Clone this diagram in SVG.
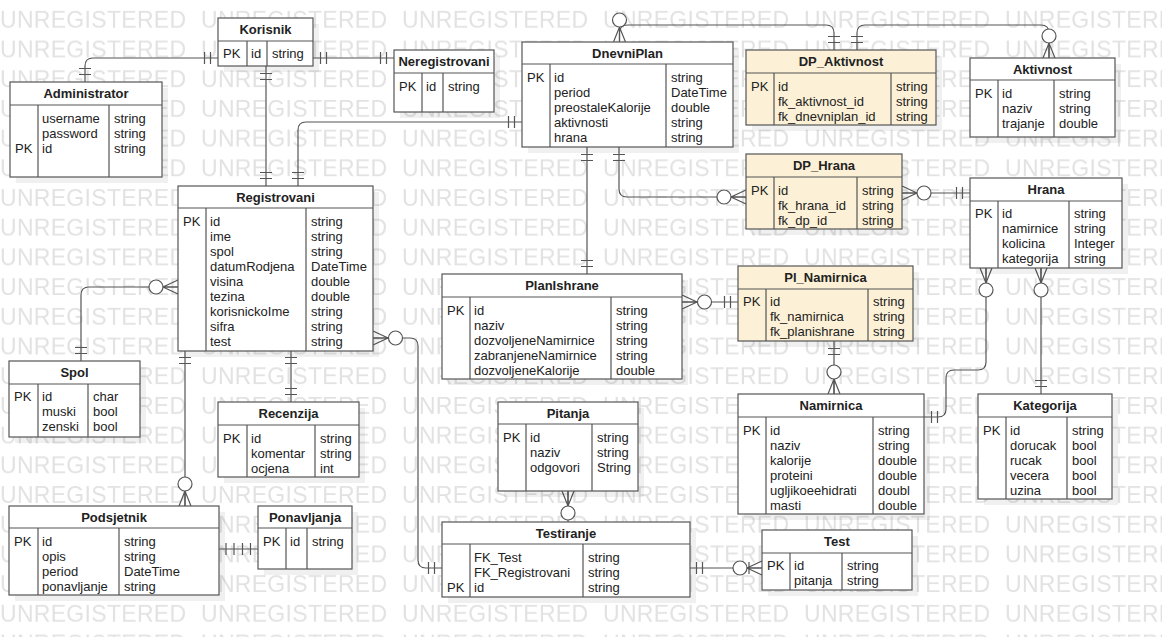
<svg xmlns="http://www.w3.org/2000/svg" width="1162" height="637" viewBox="0 0 1162 637">
<style>
.wm{font-family:"Liberation Sans",Arial,sans-serif;font-size:23px;fill:#e2e2e2;letter-spacing:0.3px}
.sh{fill:#000;opacity:0.06}
.box{fill:#fff;stroke:#555;stroke-width:1.2}
.ent{fill:#fcf1d6;stroke:#555;stroke-width:1.2}
.ln{fill:none;stroke:#555;stroke-width:1.2}
.t{font-family:"Liberation Sans",Arial,sans-serif;font-size:13px;fill:#222}
.h{font-family:"Liberation Sans",Arial,sans-serif;font-size:13px;font-weight:bold;fill:#222;text-anchor:middle}
.c{fill:none;stroke:#555;stroke-width:1.2}
.o{fill:#fff;stroke:#555;stroke-width:1.2}
</style>
<defs>
<pattern id="wmp" patternUnits="userSpaceOnUse" x="0" y="0" width="201" height="29.7">
<text class="wm" x="0" y="28.2">UNREGISTERED</text>
</pattern>
</defs>
<rect width="1162" height="637" fill="#fff"/>
<rect id="watermark" width="1162" height="637" fill="url(#wmp)"/>

<g id="connectors">
<g class="c">
<path d="M218,58H93Q85,58 85,66V82"/>
<path d="M313,58H394"/>
<path d="M266,66V186"/>
<path d="M298,186V130Q298,122 306,122H522"/>
<path d="M619.5,42V33Q619.5,25 627.5,25H826Q834,25 834,33V50"/>
<path d="M857,50V33Q857,25 865,25H1041Q1049,25 1049,33V58"/>
<path d="M587,147V274"/>
<path d="M619,147V189Q619,197 627,197H746"/>
<path d="M902,193H970"/>
<path d="M682,302H738"/>
<path d="M834,341V394"/>
<path d="M986,268V362Q986,370 978,370H954Q946,370 946,378V409Q946,417 938,417H924"/>
<path d="M1041,268V394"/>
<path d="M178,287H89Q81,287 81,295V361"/>
<path d="M185,351V506"/>
<path d="M291,351V402"/>
<path d="M373,338H410Q418,338 418,346V560Q418,568 426,568H442"/>
<path d="M568,491V522"/>
<path d="M690,568H762"/>
<path d="M219,549H258"/>
<path d="M210.5,52V64M204.5,52V64M79,74.5H91M79,68.5H91"/>
<path d="M320.5,52V64M326.5,52V64M386.5,52V64M380.5,52V64"/>
<path d="M260,73.5H272M260,79.5H272M260,178.5H272M260,172.5H272"/>
<path d="M292,178.5H304M292,172.5H304M514.5,116V128M508.5,116V128"/>
<path d="M828,42.5H840M828,36.5H840M851,42.5H863M851,36.5H863"/>
<path d="M581,154.5H593M581,160.5H593M581,266.5H593M581,260.5H593"/>
<path d="M613,154.5H625M613,160.5H625"/>
<path d="M962.5,187V199M956.5,187V199M730.5,296V308M724.5,296V308"/>
<path d="M828,348.5H840M828,354.5H840M931.5,411V423M937.5,411V423"/>
<path d="M1035,386.5H1047M1035,380.5H1047M75,353.5H87M75,347.5H87"/>
<path d="M179,357.5H191M179,363.5H191M285,357.5H297M285,363.5H297M285,394.5H297M285,388.5H297"/>
<path d="M434.5,562V574M428.5,562V574M696.5,562V574M702.5,562V574M749,562V574"/>
<path d="M226,543V555M234,543V555M242.5,543V555M250.5,543V555"/>
<path d="M613.5,42L619.5,27L625.5,42M619.5,27V42"/>
<path d="M1043,58L1049,43L1055,58M1049,43V58"/>
<path d="M746,190L731,197L746,204M731,197H746"/>
<path d="M902,186L917,193L902,200M902,193H917"/>
<path d="M682,295L697,302L682,309M682,302H697"/>
<path d="M828,394L834,379L840,394M834,379V394"/>
<path d="M980,268L986,283L992,268M986,268V283"/>
<path d="M1035,268L1041,283L1047,268M1041,268V283"/>
<path d="M178,280L163,287L178,294M163,287H178"/>
<path d="M179,506L185,491L191,506M185,491V506"/>
<path d="M373,331L388,338L373,345M373,338H388"/>
<path d="M562,491L568,506L574,491M568,491V506"/>
<path d="M762,561L747,568L762,575M747,568H762"/>
</g>
<g class="o">
<circle cx="619.5" cy="20" r="7"/>
<circle cx="1049" cy="36" r="7"/>
<circle cx="724" cy="197" r="7"/>
<circle cx="924" cy="193" r="7"/>
<circle cx="704.5" cy="302" r="7"/>
<circle cx="834" cy="372" r="7"/>
<circle cx="986" cy="290" r="7"/>
<circle cx="1041" cy="290" r="7"/>
<circle cx="156" cy="287" r="7"/>
<circle cx="185" cy="484" r="7"/>
<circle cx="395.5" cy="338" r="7"/>
<circle cx="568" cy="513" r="7"/>
<circle cx="740" cy="568" r="7"/>
</g>
</g>

<g id="Korisnik">
<rect class="sh" x="224" y="24" width="95" height="48"/>
<rect class="box" x="218" y="18" width="95" height="48"/>
<path class="ln" d="M218,41H313M247,41V66M267,41V66"/>
<text class="h" x="265.5" y="33.5">Korisnik</text>
<text class="t" x="223" y="58">PK</text><text class="t" x="251" y="58">id</text><text class="t" x="272" y="58">string</text>
</g>

<g id="Administrator">
<rect class="sh" x="16" y="88" width="152" height="95"/>
<rect class="box" x="10" y="82" width="152" height="95"/>
<path class="ln" d="M10,105H162M38,105V177M109,105V177"/>
<text class="h" x="86" y="97.5">Administrator</text>
<text class="t" x="15" y="152.5">PK</text>
<text class="t"><tspan x="42" y="122.5">username</tspan><tspan x="42" y="137.5">password</tspan><tspan x="42" y="152.5">id</tspan></text>
<text class="t"><tspan x="114" y="122.5">string</tspan><tspan x="114" y="137.5">string</tspan><tspan x="114" y="152.5">string</tspan></text>
</g>

<g id="Neregistrovani">
<rect class="sh" x="400" y="56" width="100" height="62"/>
<rect class="box" x="394" y="50" width="100" height="62"/>
<path class="ln" d="M394,73H494M422,73V112M443,73V112"/>
<text class="h" x="444" y="65.5">Neregistrovani</text>
<text class="t" x="399" y="91">PK</text><text class="t" x="426" y="91">id</text><text class="t" x="448" y="91">string</text>
</g>

<g id="DnevniPlan">
<rect class="sh" x="528" y="48" width="211" height="105"/>
<rect class="box" x="522" y="42" width="211" height="105"/>
<path class="ln" d="M522,64H733M550,64V147M666,64V147"/>
<text class="h" x="627.5" y="57.5">DnevniPlan</text>
<text class="t" x="527" y="82">PK</text>
<text class="t"><tspan x="554" y="82">id</tspan><tspan x="554" y="97">period</tspan><tspan x="554" y="112">preostaleKalorije</tspan><tspan x="554" y="127">aktivnosti</tspan><tspan x="554" y="142">hrana</tspan></text>
<text class="t"><tspan x="671" y="82">string</tspan><tspan x="671" y="97">DateTime</tspan><tspan x="671" y="112">double</tspan><tspan x="671" y="127">string</tspan><tspan x="671" y="142">string</tspan></text>
</g>

<g id="DP_Aktivnost">
<rect class="sh" x="752" y="56" width="190" height="75"/>
<rect class="ent" x="746" y="50" width="190" height="75"/>
<path class="ln" d="M746,73H936M774,73V125M891,73V125"/>
<text class="h" x="841" y="65.5">DP_Aktivnost</text>
<text class="t" x="751" y="90.5">PK</text>
<text class="t"><tspan x="778" y="90.5">id</tspan><tspan x="778" y="105.5">fk_aktivnost_id</tspan><tspan x="778" y="120.5">fk_dnevniplan_id</tspan></text>
<text class="t"><tspan x="896" y="90.5">string</tspan><tspan x="896" y="105.5">string</tspan><tspan x="896" y="120.5">string</tspan></text>
</g>

<g id="Aktivnost">
<rect class="sh" x="976" y="64" width="145" height="79"/>
<rect class="box" x="970" y="58" width="145" height="79"/>
<path class="ln" d="M970,80H1115M998,80V137M1054,80V137"/>
<text class="h" x="1042.5" y="73.5">Aktivnost</text>
<text class="t" x="975" y="98">PK</text>
<text class="t"><tspan x="1002" y="98">id</tspan><tspan x="1002" y="113">naziv</tspan><tspan x="1002" y="128">trajanje</tspan></text>
<text class="t"><tspan x="1059" y="98">string</tspan><tspan x="1059" y="113">string</tspan><tspan x="1059" y="128">double</tspan></text>
</g>

<g id="DP_Hrana">
<rect class="sh" x="752" y="160" width="156" height="75"/>
<rect class="ent" x="746" y="154" width="156" height="75"/>
<path class="ln" d="M746,177H902M774,177V229M857,177V229"/>
<text class="h" x="824" y="169.5">DP_Hrana</text>
<text class="t" x="751" y="194.5">PK</text>
<text class="t"><tspan x="778" y="194.5">id</tspan><tspan x="778" y="209.5">fk_hrana_id</tspan><tspan x="778" y="224.5">fk_dp_id</tspan></text>
<text class="t"><tspan x="862" y="194.5">string</tspan><tspan x="862" y="209.5">string</tspan><tspan x="862" y="224.5">string</tspan></text>
</g>

<g id="Hrana">
<rect class="sh" x="976" y="184" width="152" height="90"/>
<rect class="box" x="970" y="178" width="152" height="90"/>
<path class="ln" d="M970,201H1122M998,201V268M1069,201V268"/>
<text class="h" x="1046" y="193.5">Hrana</text>
<text class="t" x="975" y="218">PK</text>
<text class="t"><tspan x="1002" y="218">id</tspan><tspan x="1002" y="233">namirnice</tspan><tspan x="1002" y="248">kolicina</tspan><tspan x="1002" y="263">kategorija</tspan></text>
<text class="t"><tspan x="1074" y="218">string</tspan><tspan x="1074" y="233">string</tspan><tspan x="1074" y="248">Integer</tspan><tspan x="1074" y="263">string</tspan></text>
</g>

<g id="Registrovani">
<rect class="sh" x="184" y="192" width="195" height="165"/>
<rect class="box" x="178" y="186" width="195" height="165"/>
<path class="ln" d="M178,208H373M206,208V351M306,208V351"/>
<text class="h" x="275.5" y="201.5">Registrovani</text>
<text class="t" x="183" y="226">PK</text>
<text class="t"><tspan x="210" y="226">id</tspan><tspan x="210" y="241">ime</tspan><tspan x="210" y="256">spol</tspan><tspan x="210" y="271">datumRodjena</tspan><tspan x="210" y="286">visina</tspan><tspan x="210" y="301">tezina</tspan><tspan x="210" y="316">korisnickoIme</tspan><tspan x="210" y="331">sifra</tspan><tspan x="210" y="346">test</tspan></text>
<text class="t"><tspan x="311" y="226">string</tspan><tspan x="311" y="241">string</tspan><tspan x="311" y="256">string</tspan><tspan x="311" y="271">DateTime</tspan><tspan x="311" y="286">double</tspan><tspan x="311" y="301">double</tspan><tspan x="311" y="316">string</tspan><tspan x="311" y="331">string</tspan><tspan x="311" y="346">string</tspan></text>
</g>

<g id="PlanIshrane">
<rect class="sh" x="448" y="280" width="240" height="105"/>
<rect class="box" x="442" y="274" width="240" height="105"/>
<path class="ln" d="M442,297H682M470,297V379M611,297V379"/>
<text class="h" x="562" y="289.5">PlanIshrane</text>
<text class="t" x="447" y="314.5">PK</text>
<text class="t"><tspan x="474" y="314.5">id</tspan><tspan x="474" y="329.5">naziv</tspan><tspan x="474" y="344.5">dozvoljeneNamirnice</tspan><tspan x="474" y="359.5">zabranjeneNamirnice</tspan><tspan x="474" y="374.5">dozvoljeneKalorije</tspan></text>
<text class="t"><tspan x="616" y="314.5">string</tspan><tspan x="616" y="329.5">string</tspan><tspan x="616" y="344.5">string</tspan><tspan x="616" y="359.5">string</tspan><tspan x="616" y="374.5">double</tspan></text>
</g>

<g id="Pl_Namirnica">
<rect class="sh" x="744" y="272" width="175" height="75"/>
<rect class="ent" x="738" y="266" width="175" height="75"/>
<path class="ln" d="M738,289H913M766,289V341M868,289V341"/>
<text class="h" x="825.5" y="281.5">Pl_Namirnica</text>
<text class="t" x="743" y="306">PK</text>
<text class="t"><tspan x="770" y="306">id</tspan><tspan x="770" y="321">fk_namirnica</tspan><tspan x="770" y="336">fk_planishrane</tspan></text>
<text class="t"><tspan x="873" y="306">string</tspan><tspan x="873" y="321">string</tspan><tspan x="873" y="336">string</tspan></text>
</g>

<g id="Namirnica">
<rect class="sh" x="744" y="400" width="186" height="120"/>
<rect class="box" x="738" y="394" width="186" height="120"/>
<path class="ln" d="M738,417H924M766,417V514M873,417V514"/>
<text class="h" x="831" y="409.5">Namirnica</text>
<text class="t" x="743" y="434.5">PK</text>
<text class="t"><tspan x="770" y="434.5">id</tspan><tspan x="770" y="449.5">naziv</tspan><tspan x="770" y="464.5">kalorije</tspan><tspan x="770" y="479.5">proteini</tspan><tspan x="770" y="494.5">ugljikoeehidrati</tspan><tspan x="770" y="509.5">masti</tspan></text>
<text class="t"><tspan x="878" y="434.5">string</tspan><tspan x="878" y="449.5">string</tspan><tspan x="878" y="464.5">double</tspan><tspan x="878" y="479.5">double</tspan><tspan x="878" y="494.5">doubl</tspan><tspan x="878" y="509.5">double</tspan></text>
</g>

<g id="Kategorija">
<rect class="sh" x="984" y="400" width="134" height="105"/>
<rect class="box" x="978" y="394" width="134" height="105"/>
<path class="ln" d="M978,417H1112M1006,417V499M1067,417V499"/>
<text class="h" x="1045" y="409.5">Kategorija</text>
<text class="t" x="983" y="434.5">PK</text>
<text class="t"><tspan x="1010" y="434.5">id</tspan><tspan x="1010" y="449.5">dorucak</tspan><tspan x="1010" y="464.5">rucak</tspan><tspan x="1010" y="479.5">vecera</tspan><tspan x="1010" y="494.5">uzina</tspan></text>
<text class="t"><tspan x="1072" y="434.5">string</tspan><tspan x="1072" y="449.5">bool</tspan><tspan x="1072" y="464.5">bool</tspan><tspan x="1072" y="479.5">bool</tspan><tspan x="1072" y="494.5">bool</tspan></text>
</g>

<g id="Spol">
<rect class="sh" x="15" y="367" width="131" height="76"/>
<rect class="box" x="9" y="361" width="131" height="76"/>
<path class="ln" d="M9,384H140M38,384V437M88,384V437"/>
<text class="h" x="74.5" y="376.5">Spol</text>
<text class="t" x="14" y="401">PK</text>
<text class="t"><tspan x="42" y="401">id</tspan><tspan x="42" y="416">muski</tspan><tspan x="42" y="431">zenski</tspan></text>
<text class="t"><tspan x="93" y="401">char</tspan><tspan x="93" y="416">bool</tspan><tspan x="93" y="431">bool</tspan></text>
</g>

<g id="Recenzija">
<rect class="sh" x="224" y="408" width="141" height="75"/>
<rect class="box" x="218" y="402" width="141" height="75"/>
<path class="ln" d="M218,425H359M247,425V477M315,425V477"/>
<text class="h" x="288.5" y="417.5">Recenzija</text>
<text class="t" x="223" y="443">PK</text>
<text class="t"><tspan x="251" y="443">id</tspan><tspan x="251" y="458">komentar</tspan><tspan x="251" y="473">ocjena</tspan></text>
<text class="t"><tspan x="320" y="443">string</tspan><tspan x="320" y="458">string</tspan><tspan x="320" y="473">int</tspan></text>
</g>

<g id="Podsjetnik">
<rect class="sh" x="15" y="512" width="210" height="89"/>
<rect class="box" x="9" y="506" width="210" height="89"/>
<path class="ln" d="M9,528H219M38,528V595M119,528V595"/>
<text class="h" x="114" y="521.5">Podsjetnik</text>
<text class="t" x="14" y="546">PK</text>
<text class="t"><tspan x="42" y="546">id</tspan><tspan x="42" y="561">opis</tspan><tspan x="42" y="576">period</tspan><tspan x="42" y="591">ponavljanje</tspan></text>
<text class="t"><tspan x="124" y="546">string</tspan><tspan x="124" y="561">string</tspan><tspan x="124" y="576">DateTime</tspan><tspan x="124" y="591">string</tspan></text>
</g>

<g id="Ponavljanja">
<rect class="sh" x="264" y="512" width="94" height="63"/>
<rect class="box" x="258" y="506" width="94" height="63"/>
<path class="ln" d="M258,528H352M286,528V569M307,528V569"/>
<text class="h" x="305" y="521.5">Ponavljanja</text>
<text class="t" x="263" y="546">PK</text><text class="t" x="290" y="546">id</text><text class="t" x="312" y="546">string</text>
</g>

<g id="Pitanja">
<rect class="sh" x="504" y="408" width="140" height="89"/>
<rect class="box" x="498" y="402" width="140" height="89"/>
<path class="ln" d="M498,424H638M526,424V491M592,424V491"/>
<text class="h" x="568" y="417.5">Pitanja</text>
<text class="t" x="503" y="442">PK</text>
<text class="t"><tspan x="530" y="442">id</tspan><tspan x="530" y="457">naziv</tspan><tspan x="530" y="472">odgovori</tspan></text>
<text class="t"><tspan x="597" y="442">string</tspan><tspan x="597" y="457">string</tspan><tspan x="597" y="472">String</tspan></text>
</g>

<g id="Testiranje">
<rect class="sh" x="448" y="528" width="248" height="75"/>
<rect class="box" x="442" y="522" width="248" height="75"/>
<path class="ln" d="M442,544H690M470,544V597M583,544V597"/>
<text class="h" x="566" y="537.5">Testiranje</text>
<text class="t" x="447" y="592">PK</text>
<text class="t"><tspan x="474" y="562">FK_Test</tspan><tspan x="474" y="577">FK_Registrovani</tspan><tspan x="474" y="592">id</tspan></text>
<text class="t"><tspan x="588" y="562">string</tspan><tspan x="588" y="577">string</tspan><tspan x="588" y="592">string</tspan></text>
</g>

<g id="Test">
<rect class="sh" x="768" y="536" width="150" height="60"/>
<rect class="box" x="762" y="530" width="150" height="60"/>
<path class="ln" d="M762,553H912M790,553V590M842,553V590"/>
<text class="h" x="837" y="545.5">Test</text>
<text class="t" x="767" y="569.5">PK</text>
<text class="t"><tspan x="794" y="569.5">id</tspan><tspan x="794" y="584.5">pitanja</tspan></text>
<text class="t"><tspan x="847" y="569.5">string</tspan><tspan x="847" y="584.5">string</tspan></text>
</g>
</svg>
